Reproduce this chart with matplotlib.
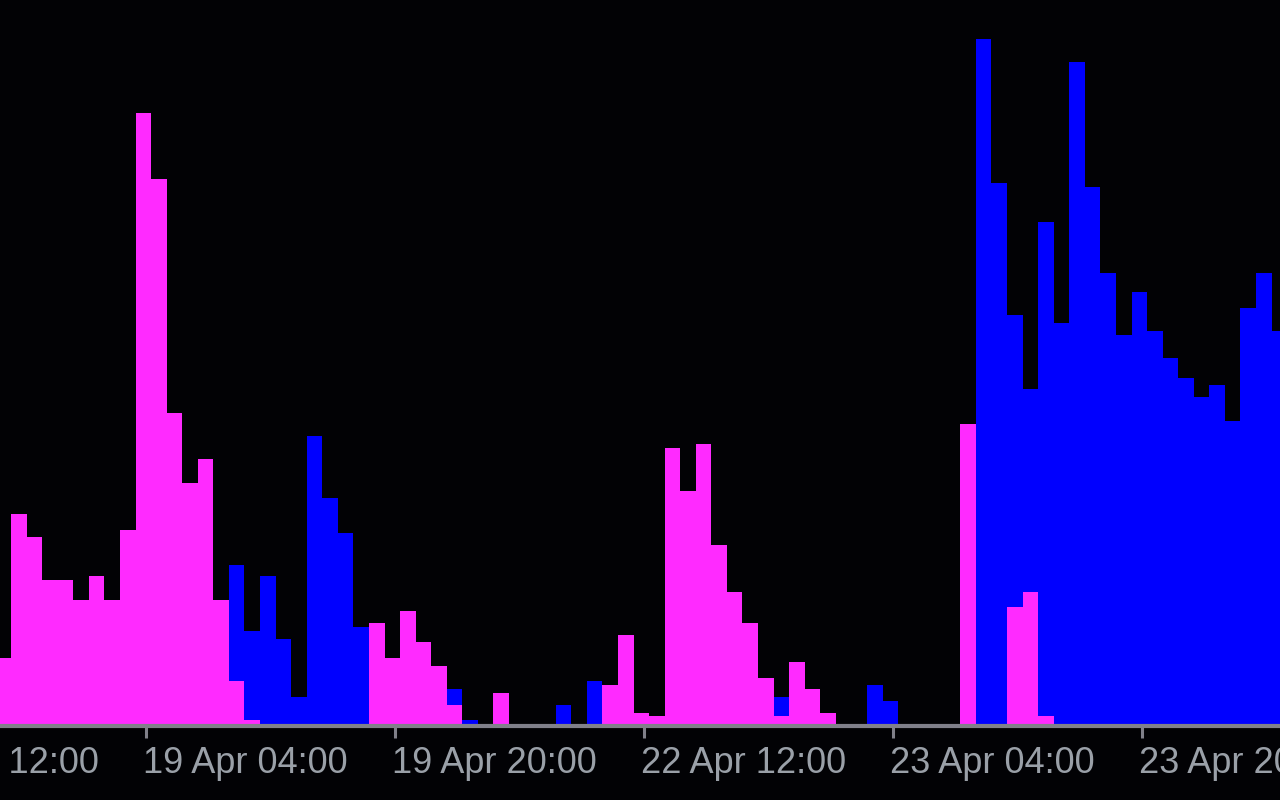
import numpy as np
import matplotlib
matplotlib.use("Agg")
import matplotlib.pyplot as plt

# hourly bars, 18 Apr 19:00 .. 23 Apr 21:00 (weekend skipped)
magenta = [66, 210, 187, 144, 144, 124, 148, 124, 194, 611,
           545, 311, 241, 265, 124, 43, 4, 0, 0, 0,
           0, 0, 0, 0, 101, 66, 113, 82, 58, 19,
           0, 0, 31, 0, 0, 0, 0, 0, 0, 39,
           89, 11, 8, 276, 233, 280, 179, 132, 101, 46,
           8, 62, 35, 11, 0, 0, 0, 0, 0, 0,
           0, 0, 300, 0, 0, 117, 132, 8, 0, 0,
           0, 0, 0, 0, 0, 0, 0, 0, 0, 0,
           0, 0, 0]

blue = [0, 0, 0, 0, 0, 0, 0, 0, 0, 0,
        0, 0, 0, 0, 0, 159, 93, 148, 85, 27,
        288, 226, 191, 97, 0, 0, 0, 0, 0, 35,
        4, 0, 0, 0, 0, 0, 19, 0, 43, 0,
        0, 0, 0, 0, 0, 0, 0, 0, 0, 0,
        27, 0, 0, 0, 0, 0, 39, 23, 0, 0,
        0, 0, 0, 685, 541, 409, 335, 502, 401, 662,
        537, 451, 389, 432, 393, 366, 346, 327, 339, 303,
        416, 451, 393]

# tick positions (bar index) and labels
tick_pos = [-7, 9, 25, 41, 57, 73]
tick_labels = ["18 Apr 12:00", "19 Apr 04:00", "19 Apr 20:00",
               "22 Apr 12:00", "23 Apr 04:00", "23 Apr 20:00"]

x = np.arange(len(magenta))

fig = plt.figure(figsize=(12.8, 8), dpi=100)
fig.patch.set_facecolor("#020205")
ax = fig.add_axes([0, 74 / 800, 1, 726 / 800])
ax.set_facecolor("#020205")

ax.bar(x, blue, width=1.0, color="#0000ff", linewidth=0)
ax.bar(x, magenta, width=1.0, color="#ff2aff", linewidth=0)

ax.set_xlim(-0.207, 82.04)
ax.set_ylim(-2, 724)

for s in ["top", "left", "right"]:
    ax.spines[s].set_visible(False)
ax.spines["bottom"].set_color("#80808a")
ax.spines["bottom"].set_linewidth(3)
ax.set_yticks([])

off = 0.175
ax.set_xticks([p + off for p in tick_pos[1:]])
ax.set_xticklabels([])
ax.tick_params(axis="x", length=8.6, width=2.2, color="#80808a")

for p, lab in zip(tick_pos, tick_labels):
    ax.text(p + off - 0.2, -0.028, lab, transform=ax.get_xaxis_transform(),
            ha="left", va="top", fontsize=26, family="Liberation Sans",
            color="#9aa0a8", clip_on=False)

fig.savefig("out.png", dpi=100, facecolor=fig.get_facecolor())
